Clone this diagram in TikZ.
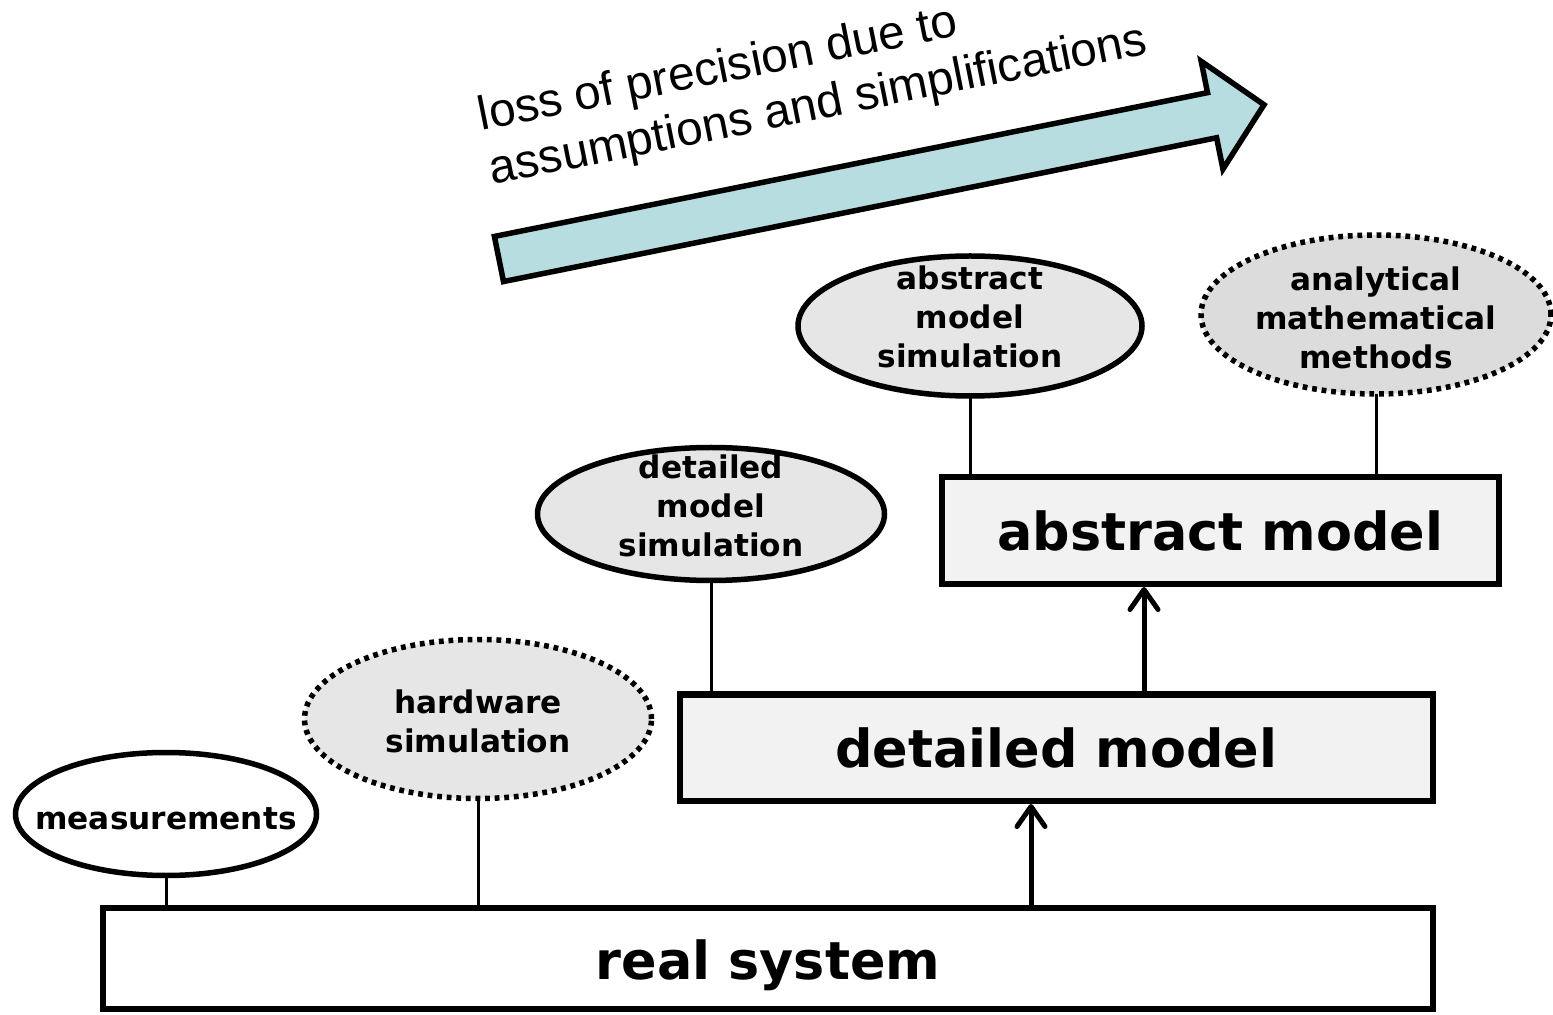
\documentclass[tikz,border=0pt]{standalone}
\usepackage{fontspec}
\setmainfont{DejaVu Sans}
\newfontfamily\arialfont{Liberation Sans}
\usetikzlibrary{arrows.meta,shapes.geometric}
\definecolor{ellgray}{HTML}{E6E6E6}
\definecolor{anagray}{HTML}{DCDCDC}
\definecolor{boxgray}{HTML}{F2F2F2}
\definecolor{arrowblue}{HTML}{B7DDE0}
\begin{document}
\begin{tikzpicture}[x=0.5pt,y=-0.5pt,
  every node/.style={inner sep=0pt, outer sep=0pt},
  bubble/.style={ellipse, draw=black, line width=2.75pt, fill=ellgray},
  dottedbubble/.style={bubble, line width=2.75pt, dash pattern=on 2.4pt off 2.4pt},
  bubtext/.style={align=center, font=\bfseries\fontsize{15.6}{19.5}\selectfont},
  bigbox/.style={rectangle, draw=black, line width=3pt},
  bigtext/.style={font=\bfseries\fontsize{26.2}{30}\selectfont},
  link/.style={draw=black, line width=1.5pt},
  uparrow/.style={draw=black, line width=2.5pt, shorten >=1.5pt, -{Straight Barb[length=10pt,width=14pt,round]}},
  arrowtext/.style={font=\arialfont\fontsize{23.8}{27.5}\selectfont, align=left}
]
\useasboundingbox (0,0) rectangle (1553,1015);

% big precision arrow
\begin{scope}[shift={(496.5,259.5)}, rotate=11.4]
\draw[line width=2.75pt, fill=arrowblue, line join=miter]
  (2.5,-23) -- (730,-23) -- (730,-55) -- (783,0) -- (730,55) -- (730,23) -- (2.5,23) -- cycle;
\end{scope}
\node[arrowtext, rotate=11.3, anchor=north west] (lbl) at (475,97)
  {loss of precision due to\\assumptions and simplifications};

% boxes
\node[bigbox, fill=white, minimum width=665pt, minimum height=50.75pt] (real) at (768,958.25) {};
\node[bigtext] (realtxt) at (768,965) {real system};
\node[bigbox, fill=boxgray, minimum width=376.25pt, minimum height=53.25pt] (det) at (1056.25,747.75) {};
\node[bigtext] (dettxt) at (1056.25,747.75) {detailed model};
\node[bigbox, fill=boxgray, minimum width=278.25pt, minimum height=53.25pt] (abs) at (1220.25,530.75) {};
\node[bigtext] (abstxt) at (1220.25,530.75) {abstract model};

% ellipses
\node[bubble, fill=white, minimum width=150.5pt, minimum height=61.5pt] (meas) at (166,814) {};
\node[bubtext, anchor=base] (meastxt) at (166,829) {measurements};

\node[dottedbubble, minimum width=173.5pt, minimum height=79.5pt] (hw) at (478,719) {};
\node[bubtext] (hwtxt) at (478,721.5) {hardware\\simulation};

\node[bubble, minimum width=173.5pt, minimum height=66.5pt] (dms) at (711,514) {};
\node[bubtext] (dmstxt) at (711,505.5) {detailed\\model\\simulation};

\node[bubble, minimum width=172pt, minimum height=70pt] (ams) at (970,326) {};
\node[bubtext] (amstxt) at (970,317.2) {abstract\\model\\simulation};

\node[dottedbubble, fill=anagray, minimum width=175pt, minimum height=79.5pt] (amm) at (1376,314.5) {};
\node[bubtext] (ammtxt) at (1376,317.5) {analytical\\mathematical\\methods};

% connectors
\draw[link] (meas.south) -- (meas.south |- real.north);
\draw[link] (hw.south) -- (hw.south |- real.north);
\draw[link] (dms.south) -- (dms.south |- det.north);
\draw[link] (ams.south) -- (ams.south |- abs.north);
\draw[link] (amm.south) -- (amm.south |- abs.north);

\coordinate (ax1) at (1031,0);
\coordinate (ax2) at (1144,0);
\draw[uparrow] (real.north -| ax1) -- (det.south -| ax1);
\draw[uparrow] (det.north -| ax2) -- (abs.south -| ax2);
\end{tikzpicture}
\end{document}
